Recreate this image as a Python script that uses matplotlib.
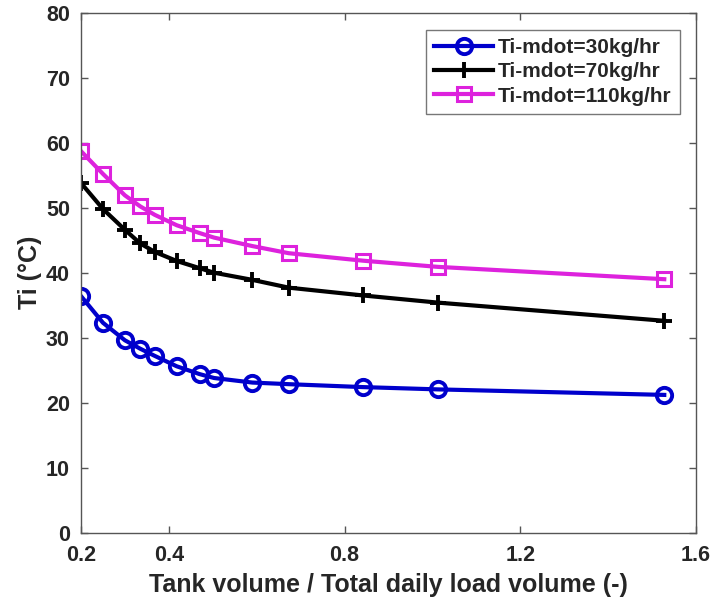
import matplotlib
matplotlib.use("Agg")
import matplotlib.pyplot as plt

plt.rcParams['font.family'] = ['Liberation Sans', 'DejaVu Sans']
plt.rcParams['font.weight'] = 'bold'

# Tank volume ratio (-) and inlet temperature Ti (°C) for three flow rates
ratio = [0.2, 0.25, 0.30, 0.335, 0.368, 0.418, 0.47, 0.503, 0.59, 0.673, 0.842, 1.012, 1.528]
ti_30 = [36.4, 32.3, 29.6, 28.3, 27.2, 25.6, 24.4, 23.8, 23.1, 22.85, 22.4, 22.05, 21.2]
ti_70 = [53.8, 49.8, 46.6, 44.5, 43.2, 41.8, 40.7, 40.0, 38.9, 37.7, 36.5, 35.4, 32.6]
ti_110 = [58.7, 55.2, 51.9, 50.2, 48.9, 47.3, 46.1, 45.4, 44.1, 43.0, 41.85, 40.9, 39.0]

series_labels = ['Ti-mdot=30kg/hr', 'Ti-mdot=70kg/hr', 'Ti-mdot=110kg/hr']
xticks = [0.2, 0.4, 0.8, 1.2, 1.6]
xtick_labels = ['0.2', '0.4', '0.8', '1.2', '1.6']
yticks = [0, 10, 20, 30, 40, 50, 60, 70, 80]

text_col = '#262626'

fig = plt.figure(figsize=(7.13, 6.05), dpi=100)
ax = fig.add_axes([0.1136, 0.1195, 0.8624, 0.8595])

ax.plot(ratio, ti_30, color='#0000CC', lw=3, marker='o', ms=11, mfc='none',
        mew=2.8, label=series_labels[0])
ax.plot(ratio, ti_70, color='black', lw=3, marker='+', ms=12,
        mew=2.8, label=series_labels[1])
ax.plot(ratio, ti_110, color='#DD22DD', lw=3, marker='s', ms=10, mfc='none',
        mew=2.2, label=series_labels[2])

ax.set_xlim(0.2, 1.6)
ax.set_ylim(0, 80)
ax.set_xticks(xticks)
ax.set_xticklabels(xtick_labels)
ax.set_yticks(yticks)

for s in ax.spines.values():
    s.set_color('#555555')
    s.set_linewidth(1.0)

ax.tick_params(axis='both', direction='in', length=5, width=1, color='#555555',
               top=True, right=True, labelsize=15.5, labelcolor=text_col)
ax.tick_params(axis='x', pad=9)
ax.tick_params(axis='y', pad=8)

for lab in ax.get_xticklabels() + ax.get_yticklabels():
    lab.set_fontweight('bold')

ax.set_xlabel('Tank volume / Total daily load volume (-)', fontsize=18,
              fontweight='bold', color=text_col, labelpad=5)
ax.set_ylabel('Ti (°C)', fontsize=18, fontweight='bold', color=text_col, labelpad=3)

leg = ax.legend(loc='upper right', bbox_to_anchor=(0.974, 0.967),
                prop={'weight': 'bold', 'size': 15}, frameon=True, fancybox=False,
                handlelength=2.8, handletextpad=0.25, borderpad=0.4,
                labelspacing=0.25, borderaxespad=0)
leg.get_frame().set_edgecolor('#555555')
leg.get_frame().set_linewidth(1.0)
for t in leg.get_texts():
    t.set_color(text_col)

fig.savefig('out.png', dpi=100)
